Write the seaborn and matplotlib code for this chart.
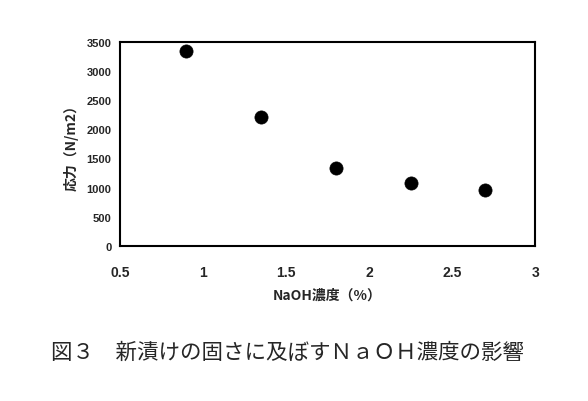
import matplotlib
matplotlib.use("Agg")
import matplotlib.pyplot as plt
import seaborn as sns
import pandas as pd

# データ
naoh = [0.9, 1.35, 1.8, 2.25, 2.7]
stress = [3340, 2215, 1335, 1075, 960]
xticks = [0.5, 1, 1.5, 2, 2.5, 3]
xticklabels = ["0.5", "1", "1.5", "2", "2.5", "3"]
yticks = [0, 500, 1000, 1500, 2000, 2500, 3000, 3500]

sns.set_style("white")
plt.rcParams["font.family"] = ["Noto Sans CJK JP", "DejaVu Sans"]

df = pd.DataFrame({"x": naoh, "y": stress})

fig = plt.figure(figsize=(5.88, 4.02), dpi=100)
ax = fig.add_axes([0.204, 0.386, 0.706, 0.507])

sns.scatterplot(data=df, x="x", y="y", ax=ax, color="black", s=90,
                edgecolor="black", linewidth=0.5)

ax.set_xlim(0.5, 3)
ax.set_ylim(0, 3500)
ax.set_xticks(xticks)
ax.set_xticklabels(xticklabels, fontsize=10, fontweight="bold", family=["Liberation Sans", "DejaVu Sans"])
ax.set_yticks(yticks)
ax.set_yticklabels([str(v) for v in yticks], fontsize=8, fontweight="bold", family=["Liberation Sans", "DejaVu Sans"])
ax.tick_params(axis="x", direction="in", length=4, width=0.8, pad=14)
ax.tick_params(axis="y", direction="out", length=3, width=0.8, pad=3)

for sp in ax.spines.values():
    sp.set_linewidth(1.5)
    sp.set_color("black")

ax.set_xlabel("NaOH濃度（%）", fontsize=10, fontweight="bold", labelpad=6)
ax.set_ylabel("応力（N/m2）", fontsize=10, fontweight="bold", labelpad=6)

fig.text(0.489, 0.122, "図３　新漬けの固さに及ぼすＮａＯＨ濃度の影響",
         ha="center", va="center", fontsize=15.5)

fig.savefig("out.png", dpi=100)
plt.close(fig)
